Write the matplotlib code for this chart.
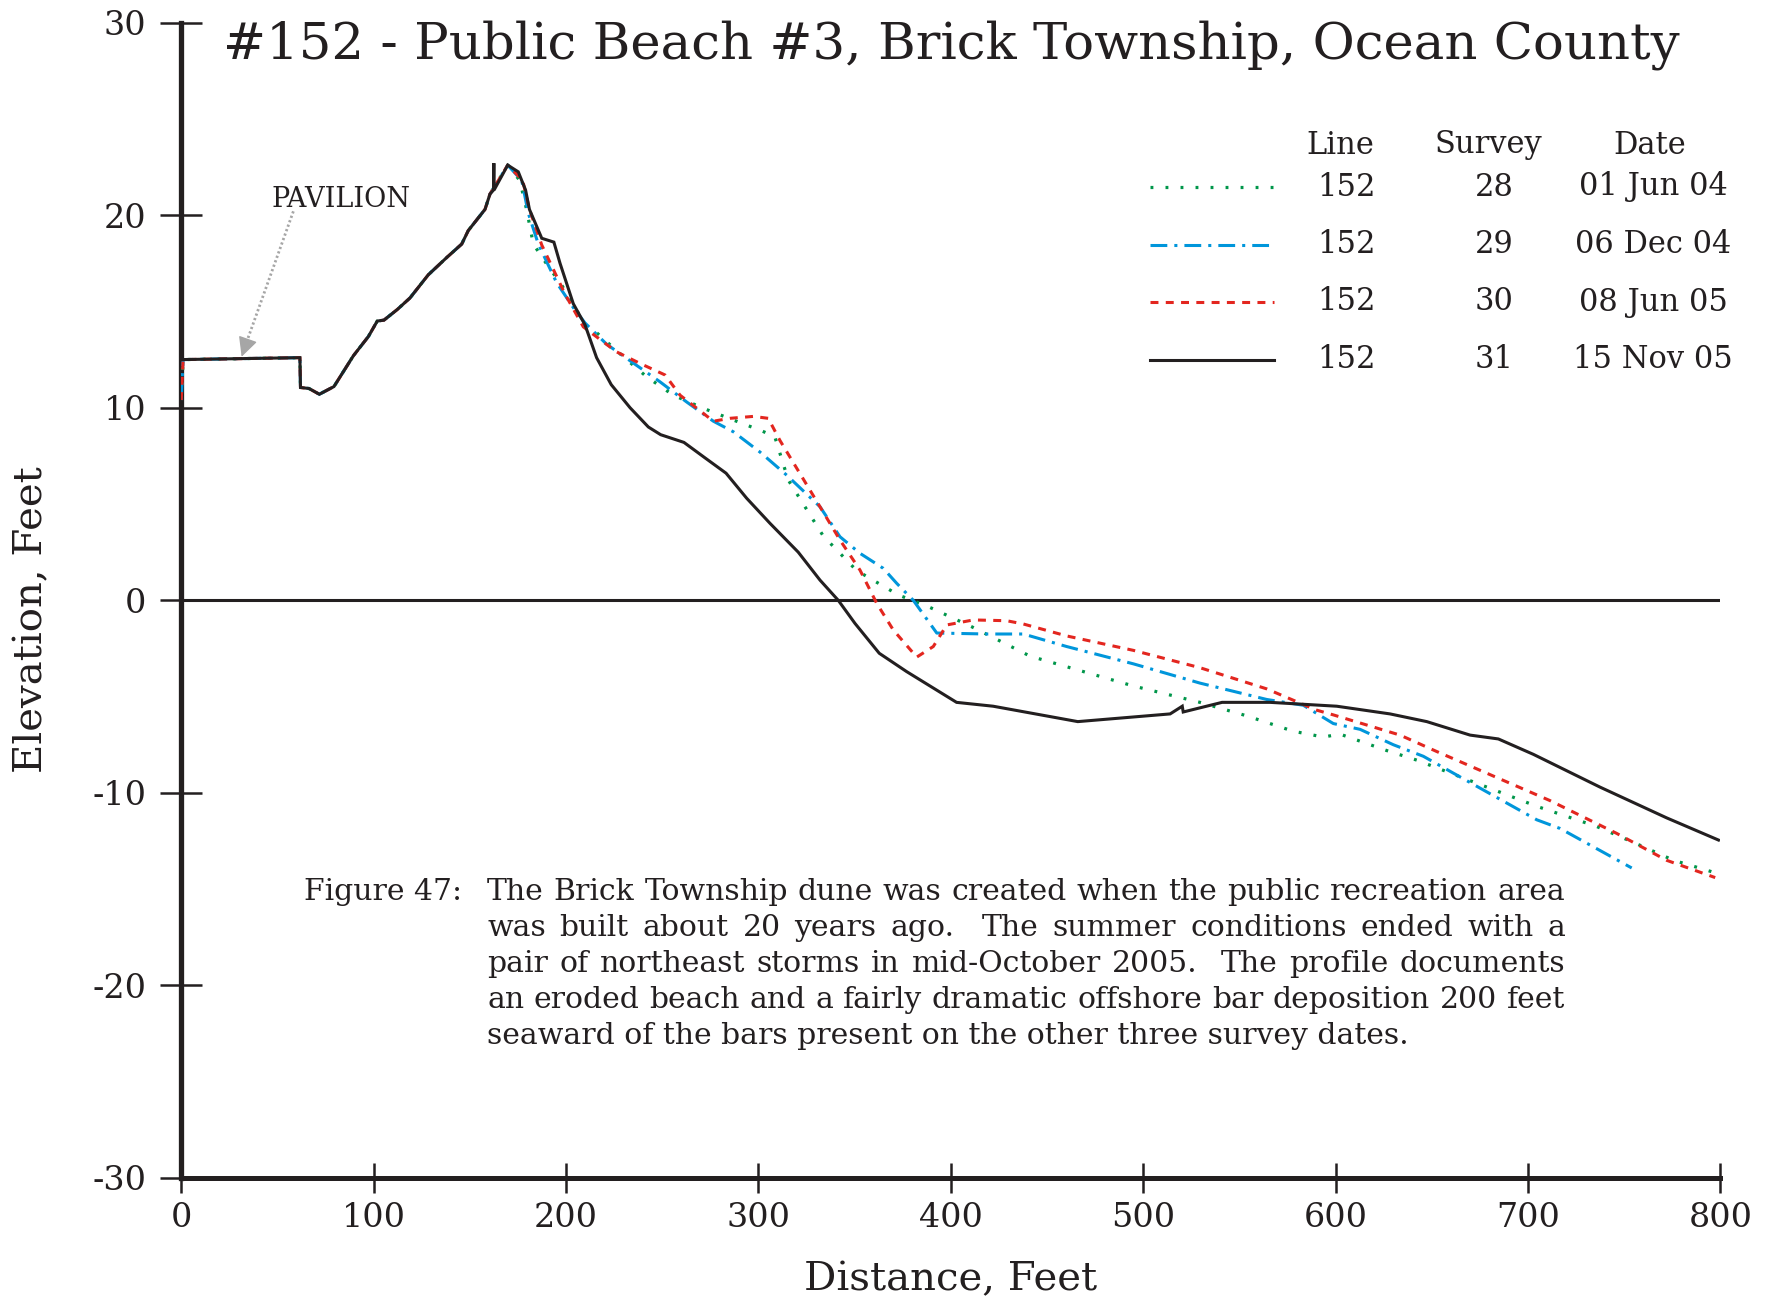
import matplotlib
matplotlib.use('Agg')
from matplotlib import pyplot as plt

plt.rcParams['font.family'] = ['DejaVu Serif']
plt.rcParams['axes.unicode_minus'] = False

# survey 31, 15 Nov 05
nov05_x = [0, 61.7, 62, 66.4, 71.8, 79.4, 89.5, 97.3, 101.9, 105.4, 112.3, 118.9, 128.4, 138, 145.8,
           149.2, 157.9, 160.5, 162.3, 162.5, 162.6, 169.7, 175.2, 177, 179, 181, 187.4, 193.7, 196.9,
           203.8, 209.9, 215.9, 223.5, 233.3, 242.8, 249.2, 261.3, 272.2, 283.2, 293.9, 306, 320.7,
           332, 341.5, 350.2, 362.8, 377, 403, 422, 466, 514, 520.3, 520.8, 541, 566, 600.6, 628.3,
           647.4, 669.9, 684.6, 702.8, 737.4, 772.1, 799]
nov05_y = [12.5, 12.6, 11.05, 11.0, 10.7, 11.1, 12.7, 13.7, 14.5, 14.55, 15.1, 15.7, 16.9, 17.8, 18.5,
           19.2, 20.3, 21.1, 21.3, 22.7, 21.3, 22.6, 22.25, 21.8, 21.3, 20.3, 18.8, 18.6, 17.5,
           15.4, 14.3, 12.6, 11.2, 10.0, 9.0, 8.6, 8.2, 7.4, 6.6, 5.3, 4.0, 2.5,
           1.05, 0.0, -1.2, -2.75, -3.7, -5.3, -5.5, -6.3, -5.9, -5.5, -5.8, -5.3, -5.3, -5.5, -5.9,
           -6.3, -7.0, -7.2, -8.0, -9.7, -11.3, -12.45]

# landward part shared by the three earlier surveys
dune_x = [0, 1, 61.7, 62, 66.4, 71.8, 79.4, 89.5, 97.3, 101.9, 105.4, 112.3, 118.9, 128.4, 138, 145.8,
          149.2, 157.9, 160.5, 163, 169.7]
dune_y = [10.4, 12.5, 12.6, 11.05, 11.0, 10.7, 11.1, 12.7, 13.7, 14.5, 14.55, 15.1, 15.7, 16.9, 17.8, 18.5,
          19.2, 20.3, 21.1, 21.5, 22.6]

# survey 28, 01 Jun 04
jun04_x = [176, 179.5, 183, 191.7, 197, 210, 215.9, 229.8, 242, 255.8, 271.4, 287, 301.7, 308.5, 315.5,
           333.7, 351, 372.7, 388.3, 410.8, 441.2, 465.4, 494.9, 529.5, 553.8, 578, 593.6, 602.3, 626.5,
           642.2, 673.4, 704.6, 735.8, 760, 775.6, 799]
jun04_y = [21.8, 20.3, 18.5, 17.2, 16.5, 14.3, 13.9, 12.65, 11.6, 10.65, 9.97, 9.36, 8.8, 8.5, 6.25,
           3.34, 1.55, 0.28, -0.33, -1.37, -2.9, -3.6, -4.45, -5.3, -6.0, -6.8, -7.1, -6.95, -7.8,
           -8.3, -9.5, -10.7, -11.75, -12.8, -13.5, -14.2]

# survey 29, 06 Dec 04
dec04_x = [177, 180.4, 185.6, 195.1, 203.8, 209.9, 221.1, 236.7, 248.8, 262.7, 276.6, 287, 300.8, 314.7,
           332, 342.4, 352.8, 364.9, 371.9, 380.5, 392.7, 418.7, 437.7, 460.2, 494.9, 529.5, 564.2,
           583.2, 598.8, 612.7, 630, 645.6, 676.8, 704.6, 716.7, 753.9]
dec04_y = [21.8, 20.1, 18.5, 16.5, 15.2, 14.4, 13.3, 12.2, 11.35, 10.3, 9.3, 8.75, 7.7, 6.5,
           4.86, 3.3, 2.44, 1.66, 0.88, 0.0, -1.7, -1.75, -1.75, -2.4, -3.3, -4.3, -5.15,
           -5.45, -6.4, -6.7, -7.5, -8.1, -9.85, -11.4, -11.85, -13.9]

# survey 30, 08 Jun 05
jun05_x = [177.5, 181, 187.4, 199.5, 209, 226.3, 238.5, 251.5, 259.3, 276.6, 285.2, 297.4, 305.1, 311.2,
           323.3, 332, 342.4, 352.8, 361.5, 370.1, 382.3, 390.9, 397.9, 411.7, 429, 437.7, 460.2,
           494.9, 529.5, 564.2, 590, 598.8, 633.5, 652.5, 711.4, 746, 772, 797.3]
jun05_y = [21.8, 20.3, 18.45, 15.9, 14.2, 12.9, 12.3, 11.7, 10.65, 9.3, 9.45, 9.55, 9.45, 8.3,
           6.3, 4.86, 3.13, 1.57, -0.16, -1.54, -2.95, -2.4, -1.28, -1.02, -1.06, -1.23, -1.85,
           -2.6, -3.5, -4.6, -5.7, -5.95, -7.0, -7.85, -10.4, -12.1, -13.5, -14.4]

legend_lines = ['152', '152', '152', '152']
legend_surveys = ['28', '29', '30', '31']
legend_dates = ['01 Jun 04', '06 Dec 04', '08 Jun 05', '15 Nov 05']

caption_lines = [
    'The Brick Township dune was created when the public recreation area',
    'was built about 20 years ago.  The summer conditions ended with a',
    'pair of northeast storms in mid-October 2005.  The profile documents',
    'an eroded beach and a fairly dramatic offshore bar deposition 200 feet',
    'seaward of the bars present on the other three survey dates.',
]

INK = '#231f20'
GREEN = '#00964a'
BLUE = '#0096db'
RED = '#e3261f'
GREY = '#a6a6a6'
LW = 2.2

styles = [
    dict(color=GREEN, lw=2.3, linestyle=(0, (0.9, 3.8))),
    dict(color=BLUE, lw=LW, linestyle=(0, (5.5, 2.3, 1.0, 2.3))),
    dict(color=RED, lw=LW, linestyle=(0, (2.6, 2.4))),
    dict(color=INK, lw=LW, linestyle='-'),
]

W, H = 1776, 1301
fig = plt.figure(figsize=(W / 100, H / 100), dpi=100)
L, R, T, B = 181.2, 1720.4, 22.6, 1178.0
ax = fig.add_axes([L / W, 1 - B / H, (R - L) / W, (B - T) / H])

ax.axhline(0, color=INK, lw=LW, zorder=1)

ax.plot(dune_x + jun04_x, dune_y + jun04_y, **styles[0], zorder=3)
ax.plot(dune_x + dec04_x, dune_y + dec04_y, **styles[1], zorder=3)
ax.plot(dune_x + jun05_x, dune_y + jun05_y, **styles[2], zorder=3)
ax.plot(nov05_x, nov05_y, **styles[3], solid_joinstyle='miter', zorder=4)

ax.set_xlim(0, 800)
ax.set_ylim(-30, 30)
ax.set_xticks(range(0, 801, 100))
ax.set_yticks(range(-30, 31, 10))
for s in ['top', 'right']:
    ax.spines[s].set_visible(False)
ax.spines['left'].set_linewidth(3.8)
ax.spines['bottom'].set_linewidth(3.6)
ax.spines['left'].set_color(INK)
ax.spines['bottom'].set_color(INK)
ax.tick_params(axis='y', direction='inout', length=30, width=1.8, pad=10, labelsize=24, colors=INK)
ax.tick_params(axis='x', direction='inout', length=22, width=1.8, pad=6, labelsize=24, colors=INK)

ax.set_xlabel('Distance, Feet', fontsize=29, color=INK)
ax.xaxis.label.set_va('center')
ax.xaxis.set_label_coords(0.5, (B - 1280) / (B - T))
ax.set_ylabel('Elevation, Feet', fontsize=29, color=INK)
ax.yaxis.label.set_va('center')
ax.yaxis.set_label_coords((32 - L) / (R - L), (B - 620) / (B - T))

ax.text((223 - L) / (R - L), (B - 58) / (B - T), '#152 - Public Beach #3, Brick Township, Ocean County',
        transform=ax.transAxes, fontsize=37, color=INK, va='baseline', ha='left')

# pavilion note: dotted grey leader with a solid head
ax.plot([58.3, 33.6], [20.2, 13.3], color=GREY, lw=2.0, linestyle=(0, (0.8, 0.9)), zorder=2)
ax.annotate('', xy=(31.4, 12.65), xytext=(34.3, 13.47),
            arrowprops=dict(arrowstyle='-|>', color=GREY, lw=1.0,
                            mutation_scale=30, shrinkA=0, shrinkB=0))
ax.text(83, 20.8, 'PAVILION', fontsize=19.5, color=INK, ha='center', va='center')

# legend as a table
def fx(px):
    return (px - L) / (R - L)

def fy(py):
    return (B - py) / (B - T)

ax.text(fx(1340), fy(145), 'Line', transform=ax.transAxes, fontsize=22, ha='center', va='center', color=INK)
ax.text(fx(1488), fy(145), 'Survey', transform=ax.transAxes, fontsize=22, ha='center', va='center', color=INK)
ax.text(fx(1650), fy(145), 'Date', transform=ax.transAxes, fontsize=22, ha='center', va='center', color=INK)
row_y = [187, 244.5, 302, 360]
for i in range(4):
    yy = fy(row_y[i])
    ax.plot([fx(1150), fx(1274)], [yy, yy], transform=ax.transAxes, clip_on=False, **styles[i])
    ax.text(fx(1346), yy, legend_lines[i], transform=ax.transAxes, fontsize=22, ha='center', va='center', color=INK)
    ax.text(fx(1494), yy, legend_surveys[i], transform=ax.transAxes, fontsize=22, ha='center', va='center', color=INK)
    ax.text(fx(1653), yy, legend_dates[i], transform=ax.transAxes, fontsize=22, ha='center', va='center', color=INK)

# caption, justified by hand
cap_size = 21.5
cap_left, cap_right = 487, 1565
baselines = [900, 936, 972, 1008, 1044]
fig.text(303.6 / W, 1 - baselines[0] / H, 'Figure 47:', fontsize=cap_size, va='baseline', color=INK)
renderer = fig.canvas.get_renderer()
for n, line in enumerate(caption_lines):
    yy = 1 - baselines[n] / H
    if n == len(caption_lines) - 1:
        fig.text(cap_left / W, yy, line, fontsize=cap_size, va='baseline', color=INK)
        continue
    words = line.split(' ')
    texts = [fig.text(0, yy, w, fontsize=cap_size, va='baseline', color=INK) for w in words]
    widths = [t.get_window_extent(renderer).width if w else 0 for t, w in zip(texts, words)]
    gap = (cap_right - cap_left - sum(widths)) / (len(words) - 1)
    x = cap_left
    for t, w in zip(texts, widths):
        t.set_x(x / W)
        x += w + gap

fig.savefig('out.png', dpi=100)
